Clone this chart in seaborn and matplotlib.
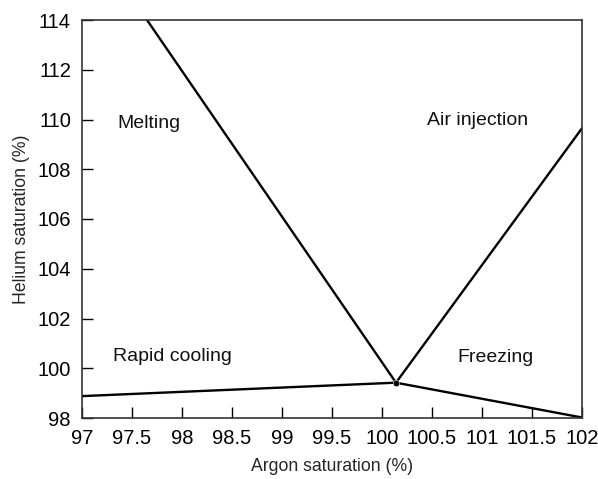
import matplotlib
matplotlib.use("Agg")
import matplotlib.pyplot as plt
import seaborn as sns
import pandas as pd

sns.set_theme(style="white")
plt.rcParams['font.family'] = ['Liberation Sans', 'DejaVu Sans']

# Triple point where the four process regions meet
center_x = 100.14
center_y = 99.42

# Outer end of each boundary line
end_x = [97.65, 102.0, 97.0, 102.0]
end_y = [114.0, 109.65, 98.88, 98.02]

region_labels = ["Melting", "Air injection", "Rapid cooling", "Freezing"]
label_x = [97.665, 100.96, 97.9, 101.14]
label_y = [109.85, 109.95, 100.49, 100.44]

x_ticks = [97, 97.5, 98, 98.5, 99, 99.5, 100, 100.5, 101, 101.5, 102]
y_ticks = [98, 100, 102, 104, 106, 108, 110, 112, 114]

rows = []
for i, (ex, ey) in enumerate(zip(end_x, end_y)):
    rows.append({"seg": i, "x": center_x, "y": center_y})
    rows.append({"seg": i, "x": ex, "y": ey})
df = pd.DataFrame(rows)

fig = plt.figure(figsize=(5.98, 4.79), dpi=100)
ax = fig.add_axes([82 / 598, 1 - 418 / 479, 500 / 598, 398 / 479])

for seg, g in df.groupby("seg"):
    sns.lineplot(data=g, x="x", y="y", color="black", linewidth=1.7,
                 sort=False, estimator=None, ax=ax, legend=False)
sns.scatterplot(x=[center_x], y=[center_y], color="black", s=22, ax=ax, zorder=5)

for t, lx, ly in zip(region_labels, label_x, label_y):
    ax.text(lx, ly, t, ha="center", va="center", fontsize=14, color="#111111")

ax.set_xlim(97, 102)
ax.set_ylim(98, 114)
ax.set_xticks(x_ticks)
ax.set_xticklabels([f"{v:g}" for v in x_ticks])
ax.set_yticks(y_ticks)
ax.set_yticklabels([f"{v:g}" for v in y_ticks])
ax.tick_params(direction="in", length=8, width=1, colors="black",
               labelsize=14.5, bottom=True, left=True, top=False, right=False, pad=8)
for s in ax.spines.values():
    s.set_color("#333333")
    s.set_linewidth(1.2)
ax.set_xlabel("Argon saturation (%)", fontsize=12.7, labelpad=7)
ax.set_ylabel("Helium saturation (%)", fontsize=12.7, labelpad=5)
ax.grid(False)

fig.savefig("out.png", dpi=100)
